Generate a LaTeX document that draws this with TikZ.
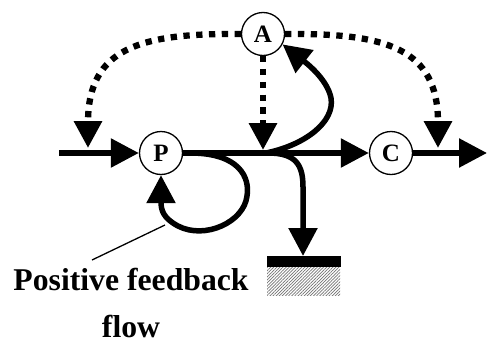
\documentclass[tikz,border=0pt]{standalone}
\usepackage{fontspec}
\setmainfont{Liberation Serif}
\usetikzlibrary{arrows.meta,patterns.meta}
\begin{document}
\begin{tikzpicture}[x=1pt,y=-1pt,
  stock/.style={circle,draw,line width=1.3pt,minimum size=43pt,inner sep=0pt,
    font=\bfseries\fontsize{25}{25}\selectfont},
  flowline/.style={line width=5.5pt,-{Triangle[length=28pt,width=28pt]}},
  ctrl/.style={line width=6.3pt,dash pattern=on 6.3pt off 6.5pt,
    -{Triangle[length=27pt,width=27pt]}},
  lbl/.style={anchor=base,inner sep=0pt,font=\bfseries\fontsize{31.7}{34}\selectfont},
  leader/.style={line width=1.3pt}]
\useasboundingbox (0,0) rectangle (489,348);

% stocks
\node[stock] (P) at (161,153) {P};
\node[stock] (A) at (263,34) {A};
\node[stock] (C) at (391,153) {C};

% free ends and junctions
\coordinate (src) at (59,153);
\coordinate (out) at (487,153);
\coordinate (junc) at (263,150);
\coordinate (pin) at (88,148);
\coordinate (cin) at (438,148);
\coordinate (sinktop) at (303,256);
\coordinate (fbpt) at (165,225);
\coordinate (fbtxt) at (92,260);

% sink
\fill (267,256) rectangle (341,267);
\path[pattern={Lines[angle=45,distance=2.2pt,line width=0.7pt]},pattern color=black!55]
  (267,267) rectangle (340,295);

% main flows
\draw[flowline] (src) -- (P);
\draw[flowline] (P) -- (C);
\draw[flowline] (C) -- (out);

% branch into A
\draw[flowline] (266,153) .. controls (305,145) and (335,122) .. (331,98)
  .. controls (328,83) and (314,69) .. (A.-28);

% outflow to the sink
\draw[flowline] (268,153) .. controls (296,153) and (303,165) .. (303,187) -- (sinktop);

% positive feedback loop
\draw[flowline] (190,153) .. controls (240,153) and (250,178) .. (247,196)
  .. controls (244,222) and (205,240) .. (178,226)
  .. controls (163,218) and (161,210) .. (P.south);

% control links from A
\draw[ctrl] (A.west) .. controls (140,33) and (88,48) .. (pin);
\draw[ctrl] (A.east) .. controls (386,33) and (438,48) .. (cin);
\draw[ctrl] (A.south) -- (junc);

% labels
\node[lbl] (pf) at (131,290) {Positive feedback};
\node[lbl] (fl) at (131,337) {flow};
\draw[leader] (fbpt) -- (fbtxt);
\end{tikzpicture}
\end{document}
